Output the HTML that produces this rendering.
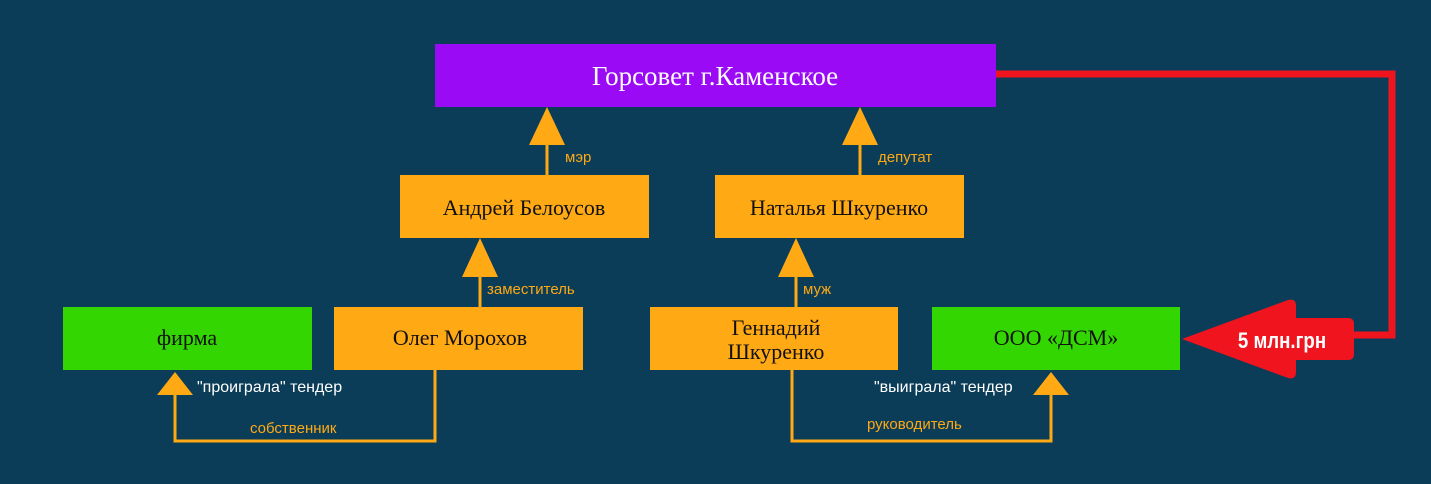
<!DOCTYPE html>
<html><head><meta charset="utf-8"><style>
html,body{margin:0;padding:0;background:#0b3d58;}
svg{display:block}
.s{font-family:"Liberation Serif","DejaVu Serif",serif;}
.a{font-family:"Liberation Sans","DejaVu Sans",sans-serif;}
</style></head><body>
<svg width="1431" height="484" viewBox="0 0 1431 484" xmlns="http://www.w3.org/2000/svg">
<rect width="1431" height="484" fill="#0b3d58"/>
<polyline points="996,74 1392,74 1392,335 1350,335" fill="none" stroke="#f0141e" stroke-width="7"/>
<path d="M1182,339 L1288,300 Q1296,298 1296,306 L1296,318 L1348,318 Q1354,318 1354,324 L1354,354 Q1354,360 1348,360 L1296,360 L1296,372 Q1296,380 1288,378 Z" fill="#f0141e"/>
<text x="1282" y="348" class="a" fill="#fff" font-size="22" font-weight="bold" text-anchor="middle" transform="translate(1282,0) scale(0.85,1) translate(-1282,0)">5 млн.грн</text>
<rect x="435" y="44" width="561" height="63" fill="#9b0af5"/>
<text x="715" y="85" class="s" fill="#fff" font-size="27" text-anchor="middle">Горсовет г.Каменское</text>
<rect x="400" y="175" width="249" height="63" fill="#ffa914"/>
<text x="524" y="215" class="s" fill="#111" font-size="22" text-anchor="middle">Андрей Белоусов</text>
<rect x="715" y="175" width="249" height="63" fill="#ffa914"/>
<text x="839" y="215" class="s" fill="#111" font-size="22" text-anchor="middle">Наталья Шкуренко</text>
<rect x="63" y="307" width="249" height="63" fill="#33d600"/>
<text x="187" y="345" class="s" fill="#111" font-size="22" text-anchor="middle">фирма</text>
<rect x="334" y="307" width="249" height="63" fill="#ffa914"/>
<text x="460" y="345" class="s" fill="#111" font-size="22" text-anchor="middle">Олег Морохов</text>
<rect x="650" y="307" width="248" height="63" fill="#ffa914"/>
<text x="776" y="335" class="s" fill="#111" font-size="22" text-anchor="middle">Геннадий</text>
<text x="776" y="359" class="s" fill="#111" font-size="22" text-anchor="middle">Шкуренко</text>
<rect x="932" y="307" width="248" height="63" fill="#33d600"/>
<text x="1056" y="345" class="s" fill="#111" font-size="22" text-anchor="middle">ООО «ДСМ»</text>
<g stroke="#ffa914" stroke-width="3" fill="none">
<line x1="547" y1="175" x2="547" y2="140"/>
<line x1="860" y1="175" x2="860" y2="140"/>
<line x1="480" y1="307" x2="480" y2="272"/>
<line x1="796" y1="307" x2="796" y2="272"/>
<polyline points="435,370 435,441 175,441 175,392"/>
<polyline points="792,370 792,441 1051,441 1051,392"/>
</g>
<g fill="#ffa914">
<polygon points="547,107 529,145 565,145"/>
<polygon points="860,107 842,145 878,145"/>
<polygon points="480,238 462,277 498,277"/>
<polygon points="796,238 778,277 814,277"/>
<polygon points="175,372 157,395 193,395"/>
<polygon points="1051,372 1033,395 1069,395"/>
</g>
<g class="a" font-size="15">
<text x="565" y="162" fill="#ffa914">мэр</text>
<text x="878" y="162" fill="#ffa914">депутат</text>
<text x="487" y="294" fill="#ffa914">заместитель</text>
<text x="803" y="294" fill="#ffa914">муж</text>
<text x="250" y="433" fill="#ffa914">собственник</text>
<text x="867" y="429" fill="#ffa914">руководитель</text>
<text x="197" y="392" fill="#fff" font-size="16">"проиграла" тендер</text>
<text x="874" y="392" fill="#fff" font-size="16">"выиграла" тендер</text>
</g>
</svg>
</body></html>
